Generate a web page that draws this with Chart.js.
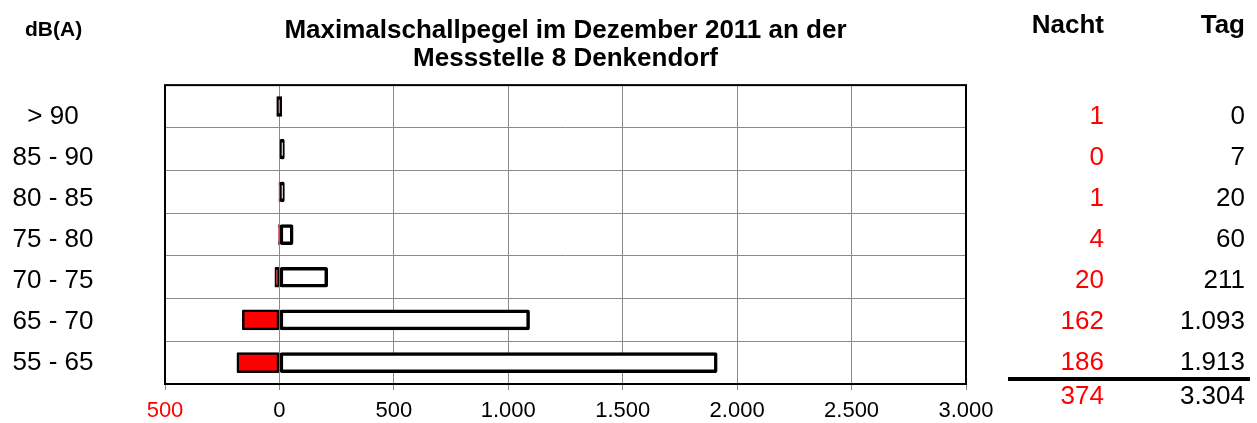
<!DOCTYPE html>
<html>
<head>
  <meta charset="UTF-8">
  <title>Maximalschallpegel im Dezember 2011</title>
  <script src="https://cdn.jsdelivr.net/npm/chart.js"></script>
  <style>
    body {
      margin: 0;
      background: #fff;
    }
    .chart-box {
      width: 1257px;
      height: 423px;
      position: relative;
    }
  </style>
</head>
<body>
  <div class="chart-box">
    <canvas id="pegelChart"></canvas>
  </div>

  <script>
    // Klassen (dB(A)) von oben nach unten
    const classes = ['> 90', '85 - 90', '80 - 85', '75 - 80', '70 - 75', '65 - 70', '55 - 65'];
    const nacht = [1, 0, 1, 4, 20, 162, 186];
    const tag = [0, 7, 20, 60, 211, 1093, 1913];
    const xTicks = [-500, 0, 500, 1000, 1500, 2000, 2500, 3000];

    const FONT = "'Liberation Sans', Arial, sans-serif";

    function fmt(v) {
      return String(Math.abs(v)).replace(/\B(?=(\d{3})+(?!\d))/g, '.');
    }

    const sumNacht = nacht.reduce((a, b) => a + b, 0);
    const sumTag = tag.reduce((a, b) => a + b, 0);

    // Rahmen um die Zeichenfläche
    const frame = {
      id: 'frame',
      beforeDatasetsDraw(chart) {
        const { ctx, chartArea: a } = chart;
        ctx.save();
        ctx.strokeStyle = '#000';
        ctx.lineWidth = 2;
        ctx.strokeRect(a.left, a.top, a.right - a.left, a.bottom - a.top);
        ctx.restore();
      }
    };

    // Klassen links, Tabelle rechts, Kopfzeilen
    const table = {
      id: 'table',
      afterDraw(chart) {
        const { ctx, chartArea: a } = chart;
        const ys = chart.scales.y;
        const mid = (a.top + a.bottom) / 2;
        const rowY = i => mid + (ys.getPixelForValue(i) - mid) * 0.96 + 5;
        const colN = 1104, colT = 1245;
        ctx.save();
        ctx.textBaseline = 'middle';

        ctx.fillStyle = '#000';
        ctx.textAlign = 'right';
        ctx.font = 'bold 26px ' + FONT;
        ctx.fillText('Nacht', colN, 26);
        ctx.fillText('Tag', colT, 26);

        ctx.textAlign = 'left';
        ctx.font = 'bold 21px ' + FONT;
        ctx.fillText('dB(A)', 25, 30);

        ctx.font = '26px ' + FONT;
        classes.forEach((c, i) => {
          const y = rowY(i);
          ctx.textAlign = 'center';
          ctx.fillStyle = '#000';
          ctx.fillText(c, 53, y);
          ctx.textAlign = 'right';
          ctx.fillStyle = '#ff0000';
          ctx.fillText(fmt(nacht[i]), colN, y);
          ctx.fillStyle = '#000';
          ctx.fillText(fmt(tag[i]), colT, y);
        });

        ctx.fillStyle = '#000';
        ctx.fillRect(1008, 377, 242, 4);

        ctx.textAlign = 'right';
        ctx.fillStyle = '#ff0000';
        ctx.fillText(fmt(sumNacht), colN, 397);
        ctx.fillStyle = '#000';
        ctx.fillText(fmt(sumTag), colT, 397);
        ctx.restore();
      }
    };

    new Chart(document.getElementById('pegelChart'), {
      type: 'bar',
      data: {
        labels: classes,
        datasets: [
          {
            label: 'Nacht',
            data: nacht.map(v => -v),
            backgroundColor: '#ff0000',
            borderColor: '#000',
            borderWidth: 2.5,
            borderSkipped: false,
            borderRadius: 1,
            barThickness: 20
          },
          {
            label: 'Tag',
            data: tag,
            backgroundColor: '#fff',
            borderColor: '#000',
            borderWidth: 3.5,
            borderSkipped: false,
            borderRadius: 2,
            barThickness: 20,
            minBarLength: 5
          }
        ]
      },
      options: {
        indexAxis: 'y',
        responsive: true,
        maintainAspectRatio: false,
        animation: false,
        layout: { padding: { top: 0, right: 291, bottom: 0, left: 0 } },
        plugins: {
          legend: { display: false },
          tooltip: { enabled: false },
          title: {
            display: true,
            fullSize: false,
            text: ['Maximalschallpegel im Dezember 2011 an der', 'Messstelle 8 Denkendorf'],
            color: '#000',
            font: { family: FONT, size: 26, weight: 'bold', lineHeight: 1.06 },
            padding: { top: 17, bottom: 13 }
          }
        },
        scales: {
          x: {
            stacked: true,
            min: -500,
            max: 3000,
            afterBuildTicks(s) {
              s.ticks = xTicks.map(v => ({ value: v }));
            },
            afterFit(s) {
              s.height = 39;
              s.paddingLeft = 0;
              s.paddingRight = 0;
            },
            grid: { color: '#8a8a8a', lineWidth: 1, tickLength: 6 },
            border: { display: false },
            ticks: {
              padding: 8,
              maxRotation: 0,
              font: { family: FONT, size: 22 },
              color: ctx => ctx.tick.value < 0 ? '#ff0000' : '#000',
              callback: v => fmt(v)
            }
          },
          y: {
            stacked: true,
            afterFit(s) {
              s.width = 165;
              s.paddingTop = 0;
              s.paddingBottom = 0;
            },
            grid: { color: '#8a8a8a', lineWidth: 1, drawTicks: false },
            border: { display: false },
            ticks: { display: false }
          }
        }
      },
      plugins: [frame, table]
    });
  </script>
</body>
</html>
